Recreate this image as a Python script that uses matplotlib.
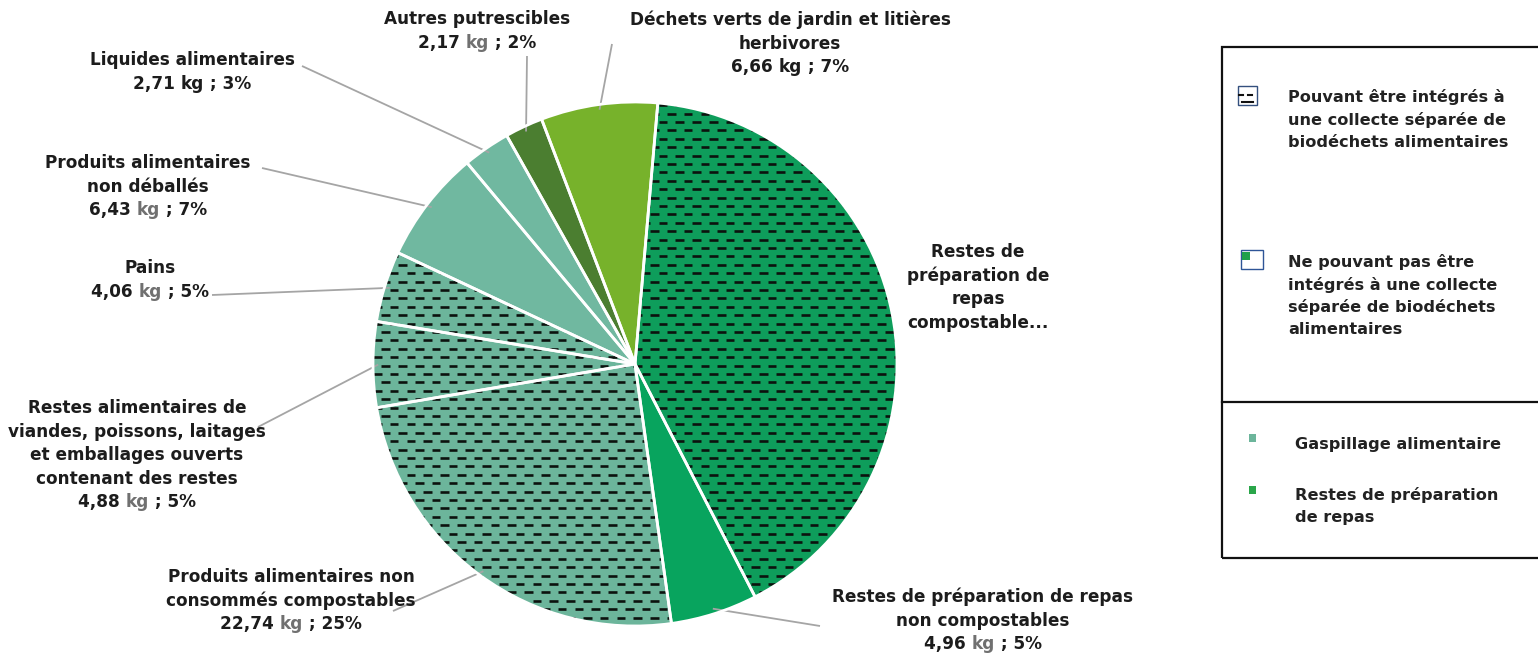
import numpy as np
import matplotlib.pyplot as plt
from matplotlib.collections import LineCollection
from matplotlib.patches import Rectangle

plt.rcParams['font.family'] = ['DejaVu Sans']

W, H = 1538, 653

# composition des ordures (kg/hab/an), dans le sens horaire depuis le haut
categories = [
    'Restes de préparation de repas compostables',
    'Restes de préparation de repas non compostables',
    'Produits alimentaires non consommés compostables',
    'Restes alimentaires de viandes, poissons, laitages et emballages ouverts contenant des restes',
    'Pains',
    'Produits alimentaires non déballés',
    'Liquides alimentaires',
    'Autres putrescibles',
    'Déchets verts de jardin et litières herbivores',
]
masses_kg = [38.0, 4.96, 22.74, 4.88, 4.06, 6.43, 2.71, 2.17, 6.66]
percents = [None, 5, 25, 5, 5, 7, 3, 2, 7]
collectable = [True, False, True, True, True, False, False, False, False]
grey_kg = [False, True, True, True, True, True, False, True, False]
label_lines = [
    ['Restes de', 'préparation de', 'repas', 'compostable...'],
    ['Restes de préparation de repas', 'non compostables'],
    ['Produits alimentaires non', 'consommés compostables'],
    ['Restes alimentaires de', 'viandes, poissons, laitages',
     'et emballages ouverts', 'contenant des restes'],
    ['Pains'],
    ['Produits alimentaires', 'non déballés'],
    ['Liquides alimentaires'],
    ['Autres putrescibles'],
    ['Déchets verts de jardin et litières', 'herbivores'],
]
colors = ['#0e9d5b', '#08a45e', '#6cb59b', '#6cb59b', '#6cb59b',
          '#70b8a0', '#70b8a0', '#4b7e30', '#77b22b']

# mise en page (pixels, y vers le bas)
pie_cx, pie_cy, R = 635, 364, 262
label_pos = [(978, 252), (983, 597), (291, 577), (137, 408), (150, 268),
             (148, 163), (192, 60), (477, 19), (790, 20)]
leader_start = [None, (820, 626), (393, 611), (258, 427), (212, 295),
                (262, 168), (302, 66), (527, 56), (612, 44)]
LH = 23.6
TXT = '#1c1c1c'
GREY = '#707070'


def Y(y):
    return H - y


fig = plt.figure(figsize=(W / 100, H / 100), dpi=100)
ax = fig.add_axes([0, 0, 1, 1])

wedges, _ = ax.pie(masses_kg, colors=colors, startangle=85, counterclock=False,
                   radius=R, center=(pie_cx, Y(pie_cy)),
                   wedgeprops=dict(edgecolor='none', linewidth=0))

# tirets des catégories collectables
step_y, step_x, dash = 8.4, 16.8, 8.5
segs = []
for i, y in enumerate(np.arange(Y(pie_cy) - R, Y(pie_cy) + R, step_y)):
    off = (i % 2) * step_x / 2
    for x in np.arange(pie_cx - R - off, pie_cx + R, step_x):
        segs.append([(x, y), (x + dash, y)])
for w, hatched in zip(wedges, collectable):
    if hatched:
        lc = LineCollection(segs, colors='#0c120e', linewidths=1.9, capstyle='butt', zorder=2)
        lc.set_clip_path(w)
        ax.add_collection(lc)

# contours blancs par-dessus
ax.pie(masses_kg, startangle=85, counterclock=False, radius=R,
       center=(pie_cx, Y(pie_cy)),
       wedgeprops=dict(fill=False, edgecolor='white', linewidth=2.0, zorder=3))

ax.set_xlim(0, W)
ax.set_ylim(0, H)
ax.set_aspect('auto')
ax.axis('off')

renderer = fig.canvas.get_renderer()
font = dict(fontsize=12.2, fontweight='bold')


def text_width(s):
    t = ax.text(0, 0, s + '|', **font)
    w = t.get_window_extent(renderer).width
    t.remove()
    t = ax.text(0, 0, '|', **font)
    w -= t.get_window_extent(renderer).width
    t.remove()
    return w


def value_line(cx, y, parts):
    full = ''.join(s for s, _ in parts)
    x0 = cx - text_width(full) / 2
    prefix = ''
    for s, c in parts:
        ax.text(x0 + text_width(prefix), Y(y), s, color=c, ha='left',
                va='center', **font)
        prefix += s


for i, lines in enumerate(label_lines):
    cx, y0 = label_pos[i]
    for k, line in enumerate(lines):
        ax.text(cx, Y(y0 + k * LH), line, color=TXT, ha='center', va='center', **font)
    if percents[i] is not None:
        num = f'{masses_kg[i]:.2f}'.replace('.', ',')
        kg_col = GREY if grey_kg[i] else TXT
        value_line(cx, y0 + len(lines) * LH,
                   [(num + ' ', TXT), ('kg', kg_col), (f' ; {percents[i]}%', TXT)])

# traits de rappel vers le milieu de chaque part
for w, start in zip(wedges, leader_start):
    if start is None:
        continue
    mid = np.deg2rad((w.theta1 + w.theta2) / 2)
    ex = pie_cx + 0.98 * R * np.cos(mid)
    ey = Y(pie_cy) + 0.98 * R * np.sin(mid)
    ax.plot([start[0], ex], [Y(start[1]), ey], color='#a5a5a5', lw=1.3,
            solid_capstyle='butt', zorder=1)

# cadre de légende
ax.add_patch(Rectangle((1222, Y(558)), 330, 511, fill=False, edgecolor='#111111',
                       lw=1.6, clip_on=False))
ax.plot([1222, W], [Y(402), Y(402)], color='#111111', lw=1.6)

# icônes de légende
ax.add_patch(Rectangle((1238, Y(105)), 19, 19, facecolor='white',
                       edgecolor='#34507e', lw=1.0))
ax.plot([1239, 1243], [Y(95), Y(95)], color='#111111', lw=1.5)
ax.plot([1248, 1252], [Y(95), Y(95)], color='#111111', lw=1.5)
ax.plot([1242, 1253], [Y(102), Y(102)], color='#111111', lw=1.5)
ax.add_patch(Rectangle((1241, Y(269)), 22, 19, facecolor='white',
                       edgecolor='#2e5597', lw=1.0))
ax.add_patch(Rectangle((1242, Y(260)), 8, 8, facecolor='#1fa04a', edgecolor='none'))
ax.add_patch(Rectangle((1249, Y(442)), 7, 8, facecolor='#6cb59b', edgecolor='none'))
ax.add_patch(Rectangle((1249, Y(494)), 7, 8, facecolor='#2aa64a', edgecolor='none'))

legend_font = dict(fontsize=11.6, fontweight='bold', color='#222222', ha='left', va='center')
leg_blocks = [
    (1288, 97, ['Pouvant être intégrés à', 'une collecte séparée de',
                'biodéchets alimentaires']),
    (1288, 262, ['Ne pouvant pas être', 'intégrés à une collecte',
                 'séparée de biodéchets', 'alimentaires']),
    (1295, 445, ['Gaspillage alimentaire']),
    (1295, 495, ['Restes de préparation', 'de repas']),
]
for x, y0, lines in leg_blocks:
    for k, line in enumerate(lines):
        ax.text(x, Y(y0 + k * 22.6), line, **legend_font)

fig.savefig('out.png', dpi=100, facecolor='white')
